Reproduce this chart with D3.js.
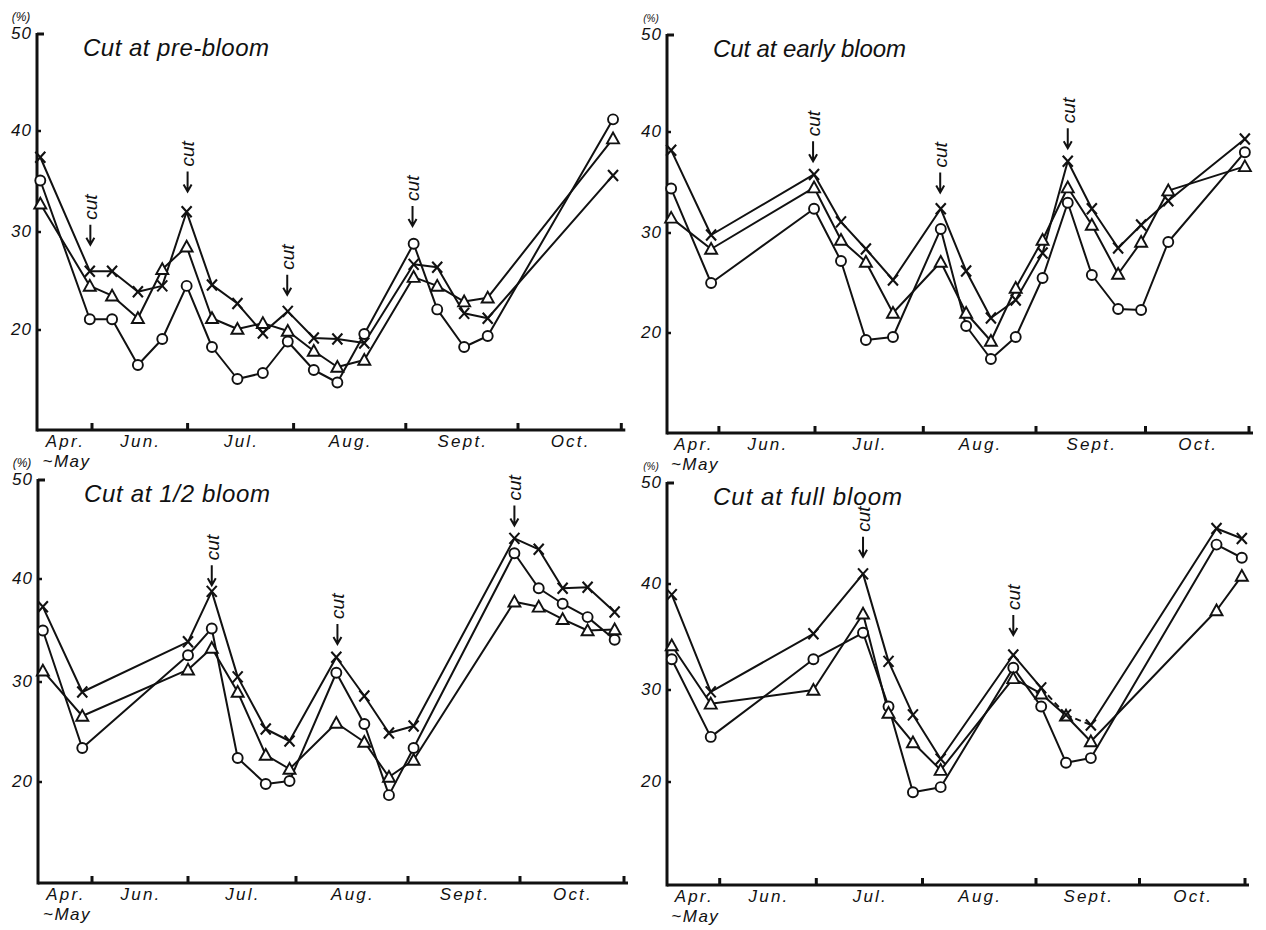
<!DOCTYPE html>
<html><head><meta charset="utf-8">
<script src="https://cdn.jsdelivr.net/npm/d3@7"></script>
<style>
body{margin:0;background:#fff}
svg text{font-family:"Liberation Sans",Arial,sans-serif;font-style:italic;fill:#111}
</style></head><body>
<svg id="c" width="1266" height="930"></svg>
<script>
// ---------- data ----------
// x positions are in "month index": 0 = start of Apr.~May, 1 = Jun 1, 2 = Jul 1, ... 6 = end of Oct.
const monthLabels = ["Apr.", "Jun.", "Jul.", "Aug.", "Sept.", "Oct."];
const yTicks = [20, 30, 40, 50];
const titles = ["Cut at pre-bloom", "Cut at early bloom", "Cut at 1/2 bloom", "Cut at full bloom"];

// Panel 1: Cut at pre-bloom
const p1Dates = [0.06, 0.96, 1.21, 1.48, 1.735, 1.99, 2.23, 2.47, 2.71, 2.945, 3.18, 3.39, 3.63, 4.07, 4.28, 4.52, 4.73, 5.92];
const p1Circle = [35.1, 21.1, 21.1, 16.5, 19.1, 24.5, 18.3, 15.1, 15.7, 18.85, 16.0, 14.75, 19.6, 28.8, 22.1, 18.3, 19.4, 41.2];
const p1Triangle = [32.8, 24.5, 23.5, 21.2, 26.2, 28.5, 21.2, 20.1, 20.7, 19.9, 17.9, 16.3, 17.0, 25.4, 24.5, 22.9, 23.3, 39.25];
const p1Cross = [37.4, 26.0, 26.0, 23.9, 24.5, 32.0, 24.6, 22.7, 19.7, 21.9, 19.2, 19.1, 18.7, 26.7, 26.4, 21.7, 21.2, 35.6];
const p1CutDates = [0.97, 2.0, 2.94, 4.06];
const p1CutTips = [28.7, 34.0, 23.6, 30.6];
const p1CrossDashed = [];

// Panel 2: Cut at early bloom
const p2Dates = [0.08, 0.85, 1.99, 2.24, 2.47, 2.72, 3.155, 3.38, 3.60, 3.82, 4.06, 4.29, 4.51, 4.75, 4.96, 5.22, 5.96];
const p2Circle = [34.4, 25.0, 32.4, 27.2, 19.3, 19.6, 30.4, 20.7, 17.4, 19.6, 25.5, 33.0, 25.8, 22.4, 22.3, 29.1, 38.0];
const p2Triangle = [31.5, 28.4, 34.5, 29.3, 27.1, 22.0, 27.1, 22.0, 19.2, 24.5, 29.3, 34.5, 30.8, 25.9, 29.1, 34.2, 36.6];
const p2Cross = [38.2, 29.8, 35.8, 31.1, 28.4, 25.3, 32.4, 26.2, 21.5, 23.3, 28.0, 37.1, 32.4, 28.5, 30.8, 33.2, 39.3];
const p2CutDates = [1.98, 3.15, 4.29];
const p2CutTips = [37.1, 34.0, 38.4];
const p2CrossDashed = [];

// Panel 3: Cut at 1/2 bloom
const p3Dates = [0.09, 0.82, 2.0, 2.22, 2.46, 2.72, 2.94, 3.36, 3.61, 3.83, 4.05, 4.95, 5.18, 5.41, 5.65, 5.91];
const p3Circle = [35.0, 23.4, 32.6, 35.2, 22.4, 19.8, 20.1, 30.9, 25.8, 18.7, 23.4, 42.6, 39.1, 37.6, 36.3, 34.1];
const p3Triangle = [31.1, 26.6, 31.2, 33.3, 29.0, 22.7, 21.3, 25.9, 24.0, 20.5, 22.2, 37.8, 37.3, 36.1, 35.0, 35.1];
const p3Cross = [37.3, 29.0, 33.9, 38.8, 30.5, 25.3, 24.1, 32.4, 28.6, 24.9, 25.6, 44.1, 43.0, 39.1, 39.2, 36.8];
const p3CutDates = [2.22, 3.37, 4.95];
const p3CutTips = [39.4, 33.7, 45.4];
const p3CrossDashed = [];

// Panel 4: Cut at full bloom
const p4Dates = [0.09, 0.83, 1.97, 2.44, 2.68, 2.91, 3.16, 3.80, 4.05, 4.29, 4.53, 5.73, 5.97];
const p4Circle = [32.9, 24.9, 32.9, 35.4, 28.2, 19.0, 19.5, 32.1, 28.2, 22.1, 22.6, 43.9, 42.6];
const p4Triangle = [34.2, 28.5, 30.0, 37.2, 27.5, 24.3, 21.3, 31.1, 29.6, 27.2, 24.4, 37.5, 40.8];
const p4Cross = [39.0, 29.8, 35.3, 41.0, 32.7, 27.3, 22.5, 33.3, 30.2, 27.3, 26.2, 45.5, 44.5];
const p4CutDates = [2.44, 3.80];
const p4CutTips = [42.7, 35.2];
const p4CrossDashed = [8, 9]; // segments drawn broken in the original

// ---------- layout ----------
const layout = [
  {ox: 37, yStops: [430, 330, 232, 131, 34], ticks: [0, 55, 150.6, 256.6, 368.8, 481, 584.3]},
  {ox: 667, yStops: [433, 333, 233, 132, 35], ticks: [0, 51.9, 148, 256.3, 369, 478.5, 582]},
  {ox: 38, yStops: [883, 782, 682, 579, 480], ticks: [0, 54, 150, 258, 370, 482, 586]},
  {ox: 667, yStops: [885, 782, 690, 584, 483], ticks: [0, 52.7, 149.3, 255.5, 369, 472.5, 578]}
];
const panelData = [
  {dates: p1Dates, series: [p1Circle, p1Triangle, p1Cross], dashed: [[], [], p1CrossDashed], cuts: p1CutDates, tips: p1CutTips},
  {dates: p2Dates, series: [p2Circle, p2Triangle, p2Cross], dashed: [[], [], p2CrossDashed], cuts: p2CutDates, tips: p2CutTips},
  {dates: p3Dates, series: [p3Circle, p3Triangle, p3Cross], dashed: [[], [], p3CrossDashed], cuts: p3CutDates, tips: p3CutTips},
  {dates: p4Dates, series: [p4Circle, p4Triangle, p4Cross], dashed: [[], [], p4CrossDashed], cuts: p4CutDates, tips: p4CutTips}
];
const markerTypes = ["circle", "triangle", "cross"];
const INK = "#111";

const svg = d3.select("#c");

panelData.forEach((pd, i) => {
  const L = layout[i];
  const g = svg.append("g");
  const x = d3.scaleLinear().domain(d3.range(7)).range(L.ticks.map(t => L.ox + t));
  const y = d3.scaleLinear().domain([10, 20, 30, 40, 50]).range(L.yStops);

  // axes
  g.append("line").attr("x1", L.ox).attr("x2", L.ox).attr("y1", y(50) - 1).attr("y2", y(10) + 1.5)
    .attr("stroke", INK).attr("stroke-width", 3);
  g.append("line").attr("x1", L.ox).attr("x2", x(6) + 4).attr("y1", y(10)).attr("y2", y(10))
    .attr("stroke", INK).attr("stroke-width", 3);
  // y ticks
  yTicks.forEach(t => {
    g.append("line").attr("x1", L.ox).attr("x2", L.ox + (t === 50 ? 7 : 4))
      .attr("y1", y(t)).attr("y2", y(t)).attr("stroke", INK).attr("stroke-width", t === 50 ? 3 : 2.5);
    g.append("text").attr("x", L.ox - 5).attr("y", y(t) - 1).attr("dy", "0.36em")
      .attr("text-anchor", "end").attr("font-size", 17).attr("letter-spacing", 1).text(t);
  });
  g.append("text").attr("x", L.ox - 16).attr("y", y(50) - 13).attr("text-anchor", "middle")
    .attr("font-size", i % 2 === 0 ? 12 : 10).text("(%)");
  // x ticks
  d3.range(1, 7).forEach(k => {
    g.append("line").attr("x1", x(k)).attr("x2", x(k)).attr("y1", y(10)).attr("y2", y(10) - 7)
      .attr("stroke", INK).attr("stroke-width", 3);
  });
  monthLabels.forEach((m, k) => {
    g.append("text").attr("x", (x(k) + x(k + 1)) / 2 + 1).attr("y", y(10) + 17)
      .attr("text-anchor", "middle").attr("font-size", 17).attr("letter-spacing", 2.2).text(m);
  });
  g.append("text").attr("x", (x(0) + x(1)) / 2 + 2).attr("y", y(10) + 37)
    .attr("text-anchor", "middle").attr("font-size", 17).attr("letter-spacing", 1.5).text("~May");

  // title
  g.append("text").attr("x", L.ox + 46).attr("y", y(50) + 22)
    .attr("font-size", 24).attr("textLength", i === 1 ? 193 : (i === 3 ? 189 : 186))
    .attr("lengthAdjust", "spacing").text(titles[i]);

  // lines (segment by segment so broken segments can be dashed)
  const line = d3.line().x(d => x(d[0])).y(d => y(d[1]));
  pd.series.forEach((vals, s) => {
    const pts = pd.dates.map((d, k) => [d, vals[k]]);
    const dashedIdx = pd.dashed[s];
    let run = [pts[0]];
    const flush = () => {
      if (run.length > 1) g.append("path").attr("d", line(run)).attr("fill", "none")
        .attr("stroke", INK).attr("stroke-width", 2).attr("stroke-linejoin", "round");
    };
    for (let k = 0; k < pts.length - 1; k++) {
      if (dashedIdx.includes(k)) {
        flush();
        g.append("path").attr("d", line([pts[k], pts[k + 1]])).attr("fill", "none")
          .attr("stroke", INK).attr("stroke-width", 2).attr("stroke-dasharray", "6,4");
        run = [pts[k + 1]];
      } else {
        run.push(pts[k + 1]);
      }
    }
    flush();
  });
  // markers
  pd.series.forEach((vals, s) => {
    const type = markerTypes[s];
    pd.dates.forEach((d, k) => {
      const cx = x(d), cy = y(vals[k]);
      if (type === "circle") {
        g.append("circle").attr("cx", cx).attr("cy", cy).attr("r", 5)
          .attr("fill", "#fff").attr("stroke", INK).attr("stroke-width", 1.9);
      } else if (type === "triangle") {
        g.append("path").attr("transform", `translate(${cx},${cy})`)
          .attr("d", "M0,-6L6,4.8L-6,4.8Z")
          .attr("fill", "#fff").attr("stroke", INK).attr("stroke-width", 1.9).attr("stroke-linejoin", "miter");
      } else {
        g.append("path").attr("transform", `translate(${cx},${cy})`)
          .attr("d", "M-5,-5.5L5,5.5M5,-5.5L-5,5.5")
          .attr("stroke", INK).attr("stroke-width", 2.1);
      }
    });
  });
  // cut annotations: downward arrow with rotated "cut" above it
  pd.cuts.forEach((c, k) => {
    const tx = x(c), ty = y(pd.tips[k]);
    g.append("path")
      .attr("d", `M${tx},${ty - 20}L${tx},${ty}M${tx - 4},${ty - 7}L${tx},${ty}L${tx + 4},${ty - 7}`)
      .attr("fill", "none").attr("stroke", INK).attr("stroke-width", 2).attr("stroke-linejoin", "miter");
    g.append("text").attr("transform", `translate(${tx},${ty - 25}) rotate(-90)`)
      .attr("dy", "0.36em").attr("font-size", 19).text("cut");
  });
});
</script>
</body></html>
